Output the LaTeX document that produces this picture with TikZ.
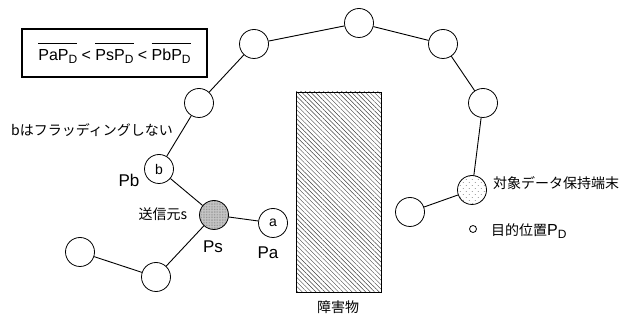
\documentclass[tikz,border=0pt]{standalone}
\usepackage{fontspec}
\setmainfont{Liberation Sans}
\newfontfamily\jpfont{Noto Sans CJK JP}
\usetikzlibrary{patterns.meta}

\newcommand\subD{\raisebox{-0.15em}{\fontsize{12}{12}\selectfont D}}

\tikzset{
  term/.style={circle, draw, line width=0.8pt, minimum size=29pt, inner sep=0pt,
    fill=white, font=\fontsize{14}{14}\selectfont},
  link/.style={line width=0.9pt},
  jplabel/.style={inner sep=0pt, font=\jpfont\fontsize{14}{14}\selectfont},
  plabel/.style={inner sep=0pt, font=\fontsize{17}{17}\selectfont}
}

\begin{document}
\begin{tikzpicture}[x=1pt, y=-1pt]
    \useasboundingbox (0,0) rectangle (624,320);

    % condition box
    \node[draw, line width=1.3pt, minimum width=185pt, minimum height=48pt, inner sep=0pt,
      font=\fontsize{16}{16}\selectfont] (cond) at (114.5,53)
      {$\overline{\mbox{\rule{0pt}{16pt}PaP\subD}}$ < $\overline{\mbox{\rule{0pt}{16pt}PsP\subD}}$ < $\overline{\mbox{\rule{0pt}{16pt}PbP\subD}}$};

    % obstacle
    \draw[line width=0.8pt, pattern={Lines[angle=-45, distance=3.2pt, line width=0.45pt]}, pattern color=black!75]
      (296,92) rectangle (381,292);
    \node[jplabel] (obst) at (338,307) {障害物};

    % terminals
    \node[term] (top) at (359,23) {};
    \node[term] (ul) at (254,44) {};
    \node[term] (ur) at (443,44) {};
    \node[term] (ml) at (199,103) {};
    \node[term] (mr) at (483,103) {};
    \node[term] (pb) at (159,169) {b};
    \node[term, preaction={fill=gray!45}, pattern={Dots[distance=1.6pt, radius=0.35pt]}, pattern color=gray!90!black] (ps) at (214,215) {};
    \node[term] (pa) at (273,223) {a};
    \node[term] (lm) at (156,277) {};
    \node[term] (ll) at (80,252) {};
    \node[term, preaction={fill=white}, pattern={Dots[distance=4pt, radius=0.45pt, angle=45]}, pattern color=gray!80!black] (hold) at (472,190) {};
    \node[term] (rl) at (410,212) {};

    \foreach \a/\b in {ll/lm, lm/ps, ps/pa, ps/pb, pb/ml, ml/ul, ul/top, top/ur, ur/mr, mr/hold, hold/rl}
      \draw[link] (\a) -- (\b);

    % destination
    \node[circle, draw, line width=0.8pt, minimum size=7pt, inner sep=0pt] (dest) at (473,229) {};

    % labels
    \node[jplabel] (flood) at (92,130) {bはフラッディングしない};
    \node[plabel] (pblab) at (129,180) {Pb};
    \node[jplabel] (src) at (163,214) {送信元s};
    \node[plabel] (pslab) at (213,247) {Ps};
    \node[plabel] (palab) at (268,253) {Pa};
    \node[jplabel, anchor=west] (holdlab) at (493,183) {対象データ保持端末};
    \node[jplabel, anchor=west] (destlab) at (491,231) {目的位置{\fontsize{16}{16}\selectfont\rmfamily P\subD}};
\end{tikzpicture}
\end{document}
